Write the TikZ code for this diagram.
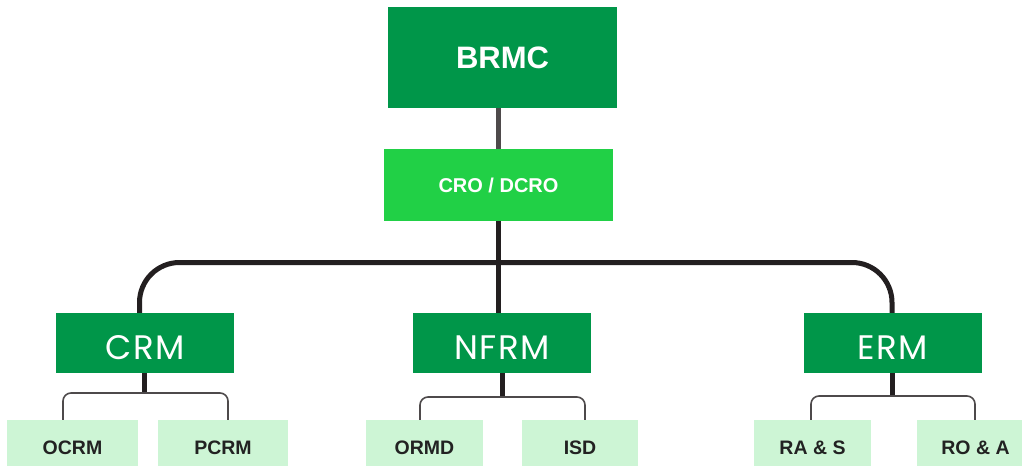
\documentclass[tikz,border=0pt]{standalone}
\usepackage{fontspec}
\setmainfont{Liberation Sans}
\newfontfamily\geofont[LetterSpace=4]{Poppins}
\definecolor{deepgreen}{RGB}{0,150,73}
\definecolor{brightgreen}{RGB}{33,208,70}
\definecolor{palegreen}{RGB}{205,245,213}
\definecolor{inkline}{RGB}{35,31,32}
\definecolor{greyline}{RGB}{78,74,75}
\definecolor{labelink}{RGB}{34,34,34}
\tikzset{
  topbox/.style={fill=deepgreen, draw=none, inner sep=0pt, minimum width=229pt, minimum height=101pt},
  officebox/.style={fill=brightgreen, draw=none, inner sep=0pt, minimum width=229pt, minimum height=72pt},
  unitbox/.style={fill=deepgreen, draw=none, inner sep=0pt, minimum width=178pt, minimum height=60pt},
  teambox/.style={fill=palegreen, draw=none, inner sep=0pt, minimum height=46pt},
  unittext/.style={font=\geofont\fontsize{34}{36}\selectfont, text=white, yshift=-5pt},
  teamtext/.style={font=\bfseries\fontsize{19.5}{22}\selectfont, text=labelink, yshift=-4.5pt},
  trunk/.style={line width=5pt, draw=inkline},
  twig/.style={line width=1.6pt, draw=greyline, rounded corners=8pt},
}
\begin{document}
\begin{tikzpicture}[x=1pt, y=-1pt]
\useasboundingbox (0,0) rectangle (1022,466);

% committee and risk office
\node[topbox, font=\bfseries\fontsize{31}{34}\selectfont, text=white] (brmc) at (502.5,57.5) {BRMC};
\node[officebox, font=\bfseries\fontsize{20}{22}\selectfont, text=white] (cro) at (498.5,185) {CRO / DCRO};

% risk management units
\node[unitbox, label={[unittext]center:CRM}] (crm) at (145,343) {};
\node[unitbox, label={[unittext]center:NFRM}] (nfrm) at (502,343) {};
\node[unitbox, label={[unittext]center:ERM}] (erm) at (893,343) {};

% teams
\node[teambox, minimum width=131pt, label={[teamtext]center:OCRM}] (ocrm) at (72.5,443) {};
\node[teambox, minimum width=130pt, label={[teamtext]center:PCRM}] (pcrm) at (223,443) {};
\node[teambox, minimum width=117pt, label={[teamtext]center:ORMD}] (ormd) at (424.5,443) {};
\node[teambox, minimum width=116pt, label={[teamtext]center:ISD}] (isd) at (580,443) {};
\node[teambox, minimum width=117pt, label={[teamtext]center:RA \& S}] (ras) at (812.5,443) {};
\node[teambox, minimum width=117pt, label={[teamtext]center:RO \& A}] (roa) at (975.5,443) {};

% bracket junctions
\coordinate (crmfork) at (144,393);
\coordinate (nfrmfork) at (502,397);
\coordinate (ermfork) at (892,396);
\coordinate (bus) at (892,262.5);

% main tree
\draw[line width=5pt, draw=greyline] (brmc.south -| cro.south) -- (cro.north);
\draw[trunk] (cro.south) -- (cro.south |- nfrm.north);
\draw[trunk, rounded corners=40pt] (crm.north -| 139.5,0) |- (bus) -- (bus |- erm.north);

% unit to team brackets
\draw[trunk] (crm.south -| crmfork) -- (crmfork);
\draw[twig] (ocrm.north -| 63,0) |- (crmfork) -| (pcrm.north -| 228,0);
\draw[trunk] (nfrm.south) -- (nfrmfork);
\draw[twig] (ormd.north -| 420,0) |- (nfrmfork) -| (isd.north -| 585,0);
\draw[trunk] (erm.south -| ermfork) -- (ermfork);
\draw[twig] (ras.north -| 811,0) |- (ermfork) -| (roa.north -| 975,0);
\end{tikzpicture}
\end{document}
